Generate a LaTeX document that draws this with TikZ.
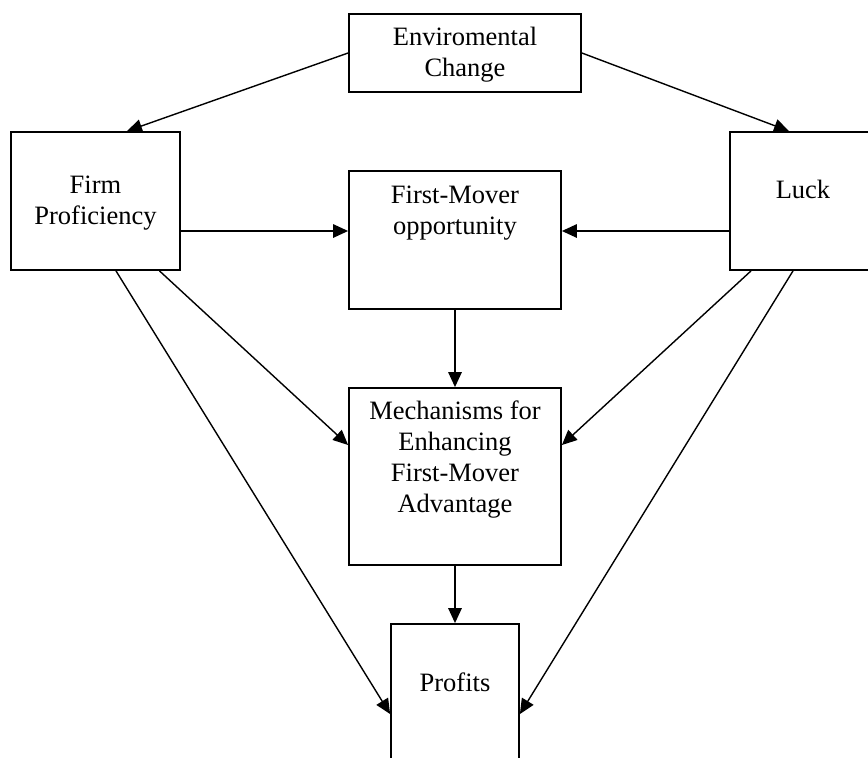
\documentclass[tikz,border=0pt]{standalone}
\usepackage{fontspec}
\setmainfont{Liberation Serif}
\usetikzlibrary{arrows.meta}
\begin{document}
\begin{tikzpicture}[x=1pt,y=-1pt,
  box/.style={draw=black,line width=1.8pt,inner sep=0pt,rectangle},
  boxtext/.style={font=\fontsize{26.5}{31}\selectfont,align=center,inner sep=0pt},
  conn/.style={line width=1.4pt,-{Triangle[length=15pt,width=13.5pt]}}]
\useasboundingbox (0,0) rectangle (868,758);
\clip (0,0) rectangle (868,758);

% boxes
\node[box,minimum width=232pt,minimum height=78pt]  (env)    at (465,53)    {};
\node[box,minimum width=169pt,minimum height=138pt] (firm)   at (95.5,201)  {};
\node[box,minimum width=146pt,minimum height=138pt] (luck)   at (803,201)   {};
\node[box,minimum width=212pt,minimum height=138pt] (fm)     at (455,240)   {};
\node[box,minimum width=212pt,minimum height=177pt] (mech)   at (455,476.5) {};
\node[box,minimum width=128pt,minimum height=166pt] (profit) at (455,707)   {};

% box texts
\node[boxtext] (envtext)    at (465,55)  {Enviromental\\Change};
\node[boxtext] (firmtext)   at (95.5,203) {Firm\\Proficiency};
\node[boxtext] (lucktext)   at (803,189) {Luck};
\node[boxtext] (fmtext)     at (455,213) {First-Mover\\opportunity};
\node[boxtext] (mechtext)   at (455,460) {Mechanisms for\\Enhancing\\First-Mover\\Advantage};
\node[boxtext] (profittext) at (455,682) {Profits};

% connectors
\draw[conn] (env.west) -- ([xshift=31.5pt]firm.north);
\draw[conn] (env.east) -- ([xshift=-14pt]luck.north);
\draw[conn] ([yshift=-30pt]firm.east) -- ([yshift=-30pt]firm.east -| fm.west);
\draw[conn] ([yshift=-30pt]luck.west) -- ([yshift=-30pt]luck.west -| fm.east);
\draw[conn] (fm.south) -- (mech.north);
\draw[conn] ([xshift=64pt]firm.south) -- ([yshift=31.5pt]mech.west);
\draw[conn] ([xshift=-52pt]luck.south) -- ([yshift=31.5pt]mech.east);
\draw[conn] (mech.south) -- (profit.north);
\draw[conn] ([xshift=20.5pt]firm.south) -- ([yshift=-7pt]profit.west);
\draw[conn] ([xshift=-10pt]luck.south) -- ([yshift=-7pt]profit.east);
\end{tikzpicture}
\end{document}
